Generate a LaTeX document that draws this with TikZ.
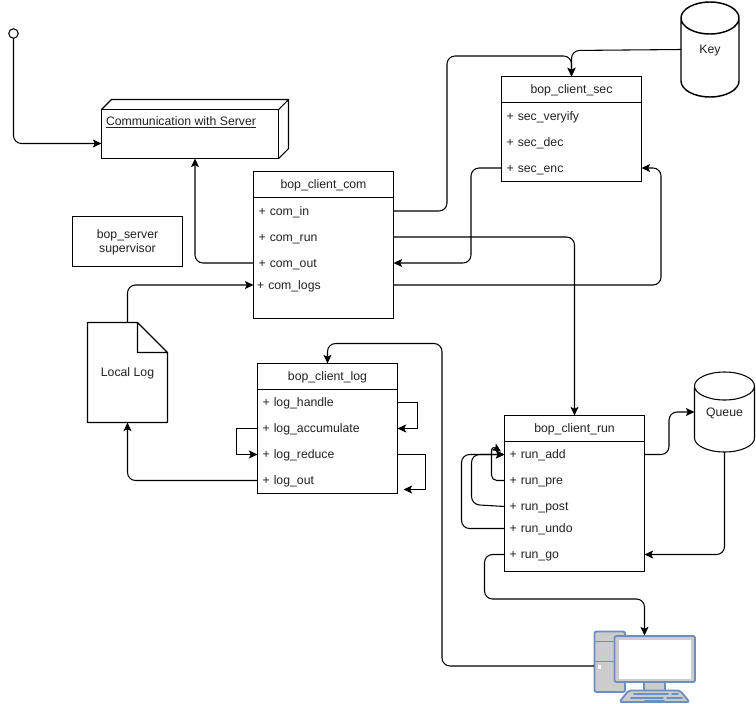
\documentclass[tikz,border=0pt]{standalone}
\usepackage{fontspec}
\setmainfont{Liberation Sans}
\usetikzlibrary{arrows.meta,calc}
\definecolor{txt}{HTML}{222222}
\definecolor{pcblue}{HTML}{6C8EBF}
\definecolor{pcgray}{HTML}{CCCCCC}
\def\u{.75pt}
\tikzset{
  every node/.style={font=\fontsize{9.2}{10.5}\selectfont,text=txt,outer sep=0pt},
  conn/.style={draw=black,line width=.8pt,rounded corners=6pt,-{Stealth[length=6.5pt,width=6pt,inset=1.5pt]}},
  sharpconn/.style={conn,sharp corners},
  line/.style={draw=black,line width=.8pt},
  box/.style={line,rectangle,anchor=north west,minimum width=140*\u,inner sep=0pt},
  head/.style={line,rectangle,anchor=north west,minimum width=140*\u,minimum height=26*\u,inner sep=0pt,text height=8.5pt,text depth=2pt},
  row/.style={rectangle,inner ysep=0pt,inner xsep=5*\u,text width=130*\u,align=left,minimum height=20*\u,text height=8.5pt,text depth=2pt},
  shapeholder/.style={rectangle,inner sep=0pt,text height=8.5pt,text depth=2pt},
  pcpart/.style={draw=pcblue,line width=1.4pt,line join=round,rounded corners=1.5pt,fill=pcgray},
}
\begin{document}
\begin{tikzpicture}[x=.75pt,y=-.75pt]
\useasboundingbox (0,0) rectangle (756,703);
\fill[white] (0,0) rectangle (756,703);

% start circle
\node[line,circle,minimum size=9.5*\u,inner sep=0pt,fill=white] (start) at (13.5,33.5) {};

% Communication with Server (3D box)
\node[line,rectangle,minimum width=177*\u,minimum height=49*\u,inner sep=0pt] (comm) at (190,134) {};
\draw[line,line join=round] (comm.north west) -- ++(10,-10) -- ++(177,0) -- ++(0,49) -- (comm.south east)
  (comm.north east) -- ++(10,-10);
\node[anchor=west,inner sep=0pt] (commlabel) at (106,122) {\underline{Communication with Server}};
\coordinate (commIn) at (101.5,143.5);
\coordinate (commBottom) at (195,158.5);

% supervisor
\node[line,rectangle,minimum width=110*\u,minimum height=50*\u,inner sep=0pt] (superv) at (127.5,241.5) {};
\node[inner sep=0pt,align=center] (supervlabel) at (127.5,242.5) {bop\_server\\supervisor};

% Local Log
\node[shapeholder,minimum width=80*\u,minimum height=100*\u] (local) at (127.5,372.5) {Local Log};
\draw[line,line join=round] (local.north west) -- (137.5,322.5) -- (167.5,352.5) -- (local.south east) -- (local.south west) -- cycle
  (137.5,322.5) -- (137.5,352.5) -- (167.5,352.5);

% Key cylinder
\node[shapeholder,minimum width=58*\u,minimum height=95*\u] (key) at (710,49.5) {Key};
\draw[draw=black,line width=1.1pt]
  (681,18) .. controls (681,9.2) and (694,2) .. (710,2) .. controls (726,2) and (739,9.2) .. (739,18)
  -- (739,81) .. controls (739,89.8) and (726,97) .. (710,97) .. controls (694,97) and (681,89.8) .. (681,81) -- cycle
  (681,18) .. controls (681,26.8) and (694,34) .. (710,34) .. controls (726,34) and (739,26.8) .. (739,18);

% Queue cylinder
\node[shapeholder,minimum width=60*\u,minimum height=80*\u] (queue) at (724.5,412) {Queue};
\draw[line]
  (694.5,386) .. controls (694.5,378.3) and (708,372) .. (724.5,372) .. controls (741,372) and (754.5,378.3) .. (754.5,386)
  -- (754.5,438) .. controls (754.5,445.7) and (741,452) .. (724.5,452) .. controls (708,452) and (694.5,445.7) .. (694.5,438) -- cycle
  (694.5,386) .. controls (694.5,393.7) and (708,400) .. (724.5,400) .. controls (741,400) and (754.5,393.7) .. (754.5,386);

% bop_client_com
\node[box,minimum height=147*\u] (com) at (253.5,171.5) {};
\node[head] (comhead) at (253.5,171.5) {bop\_client\_com};
\node[row] (comin) at (323.5,211) {+ com\_in};
\node[row] (comrun) at (323.5,237) {+ com\_run};
\node[row] (comout) at (323.5,263) {+ com\_out};
\node[row,inner xsep=3.5*\u,text width=133*\u] (comlogs) at (323.5,285) {+ com\_logs};

% bop_client_sec
\node[box,minimum height=105*\u] (sec) at (501.5,76.5) {};
\node[head] (sechead) at (501.5,76.5) {bop\_client\_sec};
\node[row] (secver) at (571.5,116) {+ sec\_veryify};
\node[row] (secdec) at (571.5,142) {+ sec\_dec};
\node[row] (secenc) at (571.5,168) {+ sec\_enc};

% bop_client_log
\node[box,minimum height=130*\u] (log) at (257.5,363.5) {};
\node[head] (loghead) at (257.5,363.5) {bop\_client\_log};
\node[row] (loghandle) at (327.5,402.5) {+ log\_handle};
\node[row] (logacc) at (327.5,428.5) {+ log\_accumulate};
\node[row] (logred) at (327.5,454.5) {+ log\_reduce};
\node[row] (logout) at (327.5,480.5) {+ log\_out};
\coordinate (logFree) at (403.5,489.5);

% bop_client_run
\node[box,minimum height=156*\u] (run) at (504.5,415.5) {};
\node[head] (runhead) at (504.5,415.5) {bop\_client\_run};
\node[row] (runadd) at (574.5,454.5) {+ run\_add};
\node[row] (runpre) at (574.5,480.5) {+ run\_pre};
\node[row] (runpost) at (574.5,506.5) {+ run\_post};
\node[row] (runundo) at (574.5,528.5) {+ run\_undo};
\node[row] (rungo) at (574.5,554.5) {+ run\_go};
\coordinate (runPreTip) at (501,451.5);

% computer
\draw[pcpart] (594.5,631.5) rectangle (625,692);
\draw[pcpart,sharp corners] (594.5,641.5) -- (614,641.5) (594.5,661.5) -- (614,661.5);
\fill[white] (598,665) rectangle (601,668.5);
\draw[pcpart,sharp corners] (644,682) rectangle (665,691);
\draw[pcpart] (628.5,690.5) -- (680,690.5) -- (689.5,702) -- (619.5,702) -- cycle;
\draw[pcblue,line width=1.2pt,line cap=round] (634,694) -- (668,694) (672,694) -- (678,694)
  (631,698) -- (663,698) (667,698) -- (682,698) (645,701) -- (664,701);
\draw[pcpart] (614.5,636) rectangle (695,682);
\fill[white] (618.5,639.5) rectangle (691,678.5);
\coordinate (pcLeft) at (594,666);
\coordinate (pcTop) at (644.5,635.5);

% connectors
\draw[conn] (start.south) -- (13.5,143.5) -- (commIn);
\draw[conn] (comout.west) -- (195,263) -- (commBottom);
\draw[conn] (local.north) -- (127.5,285) -- (comlogs.west);
\draw[conn] (comin.east) -- (447,211) -- (447,56) -- (571.5,56) -- (sec.north);
\draw[conn] (key.west) -- (571.5,50.5) -- (sec.north);
\draw[conn] (secenc.west) -- (471,168) -- (471,263) -- (comout.east);
\draw[conn] (comrun.east) -- (574.5,237) -- (run.north);
\draw[conn] (comlogs.east) -- (661,285) -- (661,168) -- (secenc.east);
\draw[conn] (logout.west) -- (127.5,480.5) -- (local.south);
\draw[sharpconn] (loghandle.east) -- (417.5,402.5) -- (417.5,428.5) -- (logacc.east);
\draw[sharpconn] (logacc.west) -- (236.5,428.5) -- (236.5,454.5) -- (logred.west);
\draw[sharpconn] (logred.east) -- (425.5,454.5) -- (425.5,489.5) -- (logFree);
\draw[conn] (pcLeft) -- (442,666) -- (442,343.5) -- (327.5,343.5) -- (log.north);
\draw[conn] (runadd.east) -- (669,454.5) -- (669,412) -- (queue.west);
\draw[conn] (queue.south) -- (724.5,554.5) -- (rungo.east);
\draw[conn] (rungo.west) -- (484.5,554.5) -- (484.5,599) -- (644.5,599) -- (pcTop);
\draw[conn,rounded corners=4pt] (runpre.west) -- (491.5,480.5) -- (491.5,445.5) -- (runPreTip);
\draw[conn] (runpost.west) -- (471.5,504.5) -- (471.5,454.5) -- (runadd.west);
\draw[conn] (runundo.west) -- (461.5,528.5) -- (461.5,454.5) -- (runadd.west);
\end{tikzpicture}
\end{document}
